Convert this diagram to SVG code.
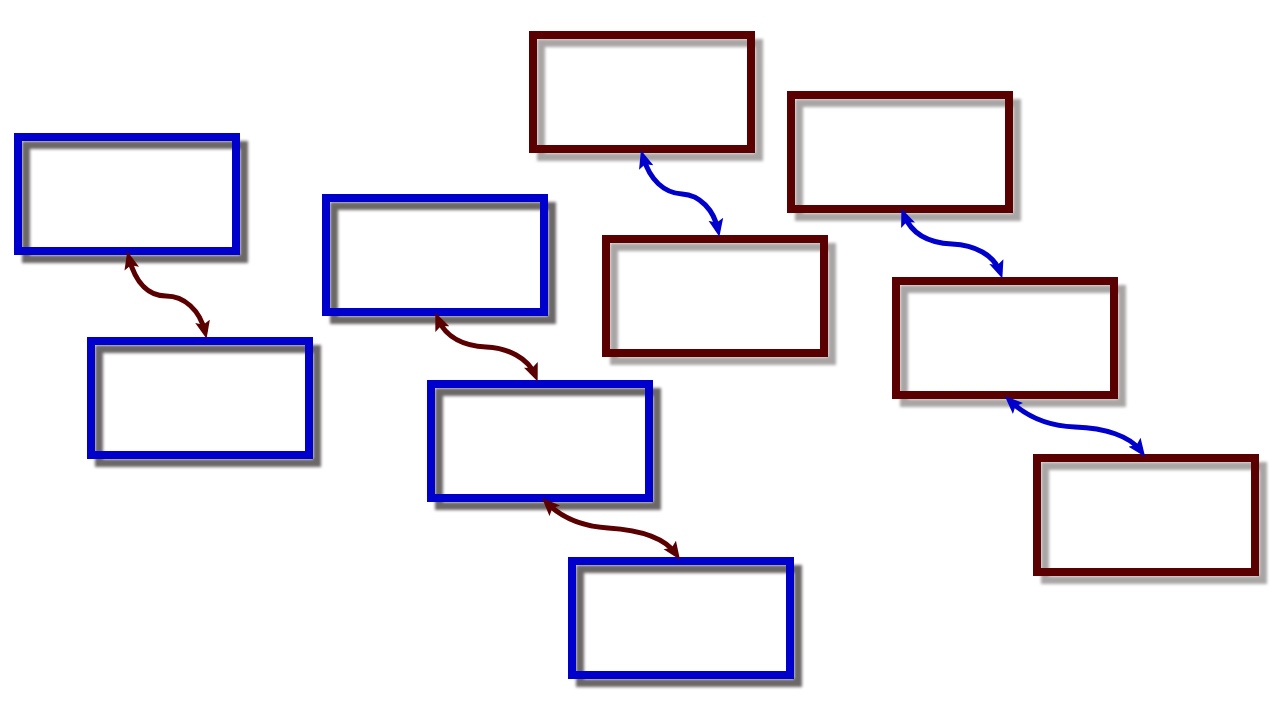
<svg xmlns="http://www.w3.org/2000/svg" width="1280" height="720" viewBox="0 0 1280 720">
  <defs>
    <style>
      .bb { fill: none; stroke: #0000CC; stroke-width: 8; filter: url(#shB); }
      .rb { fill: none; stroke: #5A0000; stroke-width: 8; filter: url(#shR); }
      .cb { fill: none; stroke: #0000CC; stroke-width: 5; marker-start: url(#mB); marker-end: url(#mB); }
      .cr { fill: none; stroke: #5A0000; stroke-width: 5; marker-start: url(#mR); marker-end: url(#mR); }
    </style>
    <filter id="shB" x="-10%" y="-10%" width="130%" height="140%">
      <feGaussianBlur in="SourceAlpha" stdDeviation="1.5"/>
      <feOffset dx="8" dy="8" result="o"/>
      <feFlood flood-color="#6b6767"/>
      <feComposite in2="o" operator="in"/>
      <feMerge><feMergeNode/><feMergeNode in="SourceGraphic"/></feMerge>
    </filter>
    <filter id="shR" x="-10%" y="-10%" width="130%" height="140%">
      <feGaussianBlur in="SourceAlpha" stdDeviation="1.5"/>
      <feOffset dx="8" dy="8" result="o"/>
      <feFlood flood-color="#a9a5a5"/>
      <feComposite in2="o" operator="in"/>
      <feMerge><feMergeNode/><feMergeNode in="SourceGraphic"/></feMerge>
    </filter>
    <marker id="mB" markerUnits="userSpaceOnUse" markerWidth="18" markerHeight="16" viewBox="0 0 18 16" refX="11" refY="8" orient="auto-start-reverse">
      <path d="M0,0.5 L18,8 L0,15.5 L3.5,8 z" fill="#0000CC"/>
    </marker>
    <marker id="mR" markerUnits="userSpaceOnUse" markerWidth="18" markerHeight="16" viewBox="0 0 18 16" refX="11" refY="8" orient="auto-start-reverse">
      <path d="M0,0.5 L18,8 L0,15.5 L3.5,8 z" fill="#5A0000"/>
    </marker>
  </defs>
  <rect x="0" y="0" width="1280" height="720" fill="#FFFFFF"/>
  <g id="blue1"><rect class="bb" x="18" y="137" width="218" height="114"/></g>
  <g id="blue2"><rect class="bb" x="91" y="341" width="218" height="114"/></g>
  <g id="blue3"><rect class="bb" x="326" y="198" width="218" height="114"/></g>
  <g id="blue4"><rect class="bb" x="431" y="384" width="218" height="114"/></g>
  <g id="blue5"><rect class="bb" x="572" y="561" width="218" height="114"/></g>
  <g id="red1"><rect class="rb" x="533" y="35" width="218" height="114"/></g>
  <g id="red2"><rect class="rb" x="606" y="239" width="218" height="114"/></g>
  <g id="red3"><rect class="rb" x="791" y="95" width="218" height="114"/></g>
  <g id="red4"><rect class="rb" x="896" y="281" width="218" height="114"/></g>
  <g id="red5"><rect class="rb" x="1037" y="458" width="218" height="114"/></g>
  <g id="connectors">
    <path class="cr" d="M129,258 C136,285 150,296 166,296 C184,296 200,310 205,332"/>
    <path class="cr" d="M438,319 C446,338 465,346 486,347 C508,348 528,358 535,375"/>
    <path class="cr" d="M547,503 C560,516 578,526 608,528 C640,530 665,538 676,554"/>
    <path class="cb" d="M643,157 C650,180 664,193 682,194 C700,195 714,210 718,230"/>
    <path class="cb" d="M904,215 C912,235 930,243 952,244 C975,245 994,255 1000,272"/>
    <path class="cb" d="M1010,401 C1025,415 1045,426 1075,427 C1105,428 1130,436 1141,451"/>
  </g>
</svg>
